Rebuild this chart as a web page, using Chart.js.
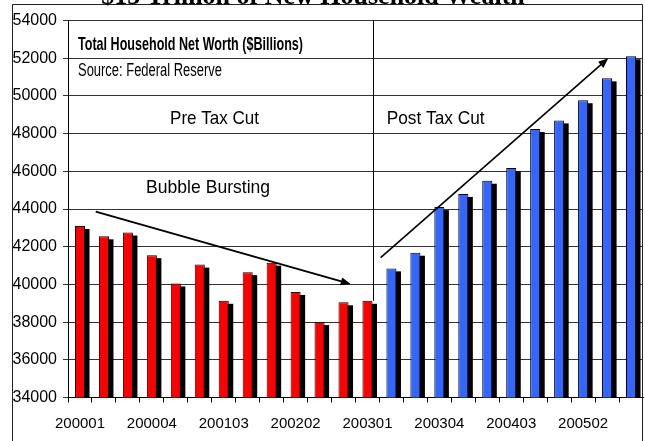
<!DOCTYPE html>
<html>
<head>
<meta charset="utf-8">
<script src="https://cdn.jsdelivr.net/npm/chart.js@4"></script>
<style>
  html,body{margin:0;padding:0;background:#fff;}
  canvas{display:block;}
</style>
</head>
<body>
<canvas id="nw" width="645" height="441"></canvas>
<script>
// quarterly, 2000Q1 .. 2005Q4
const quarters = ['200001','200002','200003','200004','200101','200102','200103','200104',
  '200201','200202','200203','200204','200301','200302','200303','200304',
  '200401','200402','200403','200404','200501','200502','200503','200504'];
const preTaxCut  = [43100,42550,42750,41550,40050,41050,39130,40650,41150,39600,38000,39050,39130];
const postTaxCut = [40850,41680,44100,44800,45500,46170,48240,48700,49770,50930,52100];
const yMin = 34000, yMax = 54000, yStep = 2000;

// annotations, in chart units (category index, $bn)
const notes = [
  {text:'Total Household Net Worth ($Billions)', at:[-0.083,52460], font:'bold 19px "Liberation Sans", Arial', w:225},
  {text:'Source: Federal Reserve', at:[-0.083,51055], font:'18px "Liberation Sans", Arial', w:144},
  {text:'Pre Tax Cut', at:[3.76,48510], font:'19px "Liberation Sans", Arial', w:89},
  {text:'Bubble Bursting', at:[2.76,44865], font:'19px "Liberation Sans", Arial', w:124},
  {text:'Post Tax Cut', at:[12.80,48510], font:'19px "Liberation Sans", Arial', w:98}
];
const arrows = [
  {from:[0.656,43860], to:[11.30,40020], lw:2},
  {from:[12.55,41420], to:[22.05,51995], lw:1.6}
];

const n = quarters.length;
const preData = quarters.map((q,i)=> i < preTaxCut.length ? preTaxCut[i] : null);
const postData = quarters.map((q,i)=> i >= n - postTaxCut.length ? postTaxCut[i-(n-postTaxCut.length)] : null);

function drawArrow(ctx,x1,y1,x2,y2,lw){
  const a = Math.atan2(y2-y1,x2-x1), len = 10, half = 4;
  ctx.lineWidth = lw; ctx.strokeStyle = '#000'; ctx.fillStyle = '#000';
  ctx.beginPath(); ctx.moveTo(x1,y1);
  ctx.lineTo(x2-len*0.7*Math.cos(a), y2-len*0.7*Math.sin(a)); ctx.stroke();
  ctx.beginPath(); ctx.moveTo(x2,y2);
  ctx.lineTo(x2-len*Math.cos(a)+half*Math.sin(a), y2-len*Math.sin(a)-half*Math.cos(a));
  ctx.lineTo(x2-len*Math.cos(a)-half*Math.sin(a), y2-len*Math.sin(a)+half*Math.cos(a));
  ctx.closePath(); ctx.fill();
}

// black drop shadow behind every bar
const shadowPlugin = {
  id:'shadow',
  beforeDatasetsDraw(chart){
    const ctx = chart.ctx, ca = chart.chartArea;
    ctx.save();
    ctx.beginPath(); ctx.rect(ca.left, ca.top, ca.right-ca.left, ca.bottom-ca.top); ctx.clip();
    ctx.fillStyle = '#000';
    chart.data.datasets.forEach((ds,i)=>{
      chart.getDatasetMeta(i).data.forEach((bar,j)=>{
        if(ds.data[j]==null) return;
        ctx.fillRect(bar.x - bar.width/2 + 4.5, bar.y + 3, bar.width, bar.base - bar.y - 3);
      });
    });
    ctx.restore();
  }
};

const notesPlugin = {
  id:'notes',
  afterDatasetsDraw(chart){
    const ctx = chart.ctx, xs = chart.scales.x, ys = chart.scales.y, ca = chart.chartArea;
    ctx.save();
    // divider after last pre-tax-cut bar
    const last = chart.getDatasetMeta(0).data[preTaxCut.length-1];
    const dx = Math.round(last.x + last.width/2) + 0.5;
    ctx.strokeStyle = '#000'; ctx.lineWidth = 1;
    ctx.beginPath(); ctx.moveTo(dx, ca.top); ctx.lineTo(dx, last.y); ctx.stroke();
    arrows.forEach(a=> drawArrow(ctx,
      xs.getPixelForValue(a.from[0]), ys.getPixelForValue(a.from[1]),
      xs.getPixelForValue(a.to[0]), ys.getPixelForValue(a.to[1]), a.lw));
    ctx.fillStyle = '#000'; ctx.textAlign = 'left'; ctx.textBaseline = 'alphabetic';
    notes.forEach(t=>{
      ctx.font = t.font;
      ctx.fillText(t.text, xs.getPixelForValue(t.at[0]), ys.getPixelForValue(t.at[1]), t.w);
    });
    ctx.restore();
  },
  afterDraw(chart){
    const ctx = chart.ctx;
    ctx.save();
    ctx.strokeStyle = '#222'; ctx.lineWidth = 1;
    ctx.beginPath(); ctx.moveTo(12.5, 460); ctx.lineTo(12.5, 4.5); ctx.lineTo(642.5, 4.5); ctx.lineTo(642.5, 460); ctx.stroke();
    ctx.fillStyle = '#000'; ctx.textAlign = 'center'; ctx.textBaseline = 'alphabetic';
    ctx.font = 'bold 26px "Liberation Serif", "Times New Roman", serif';
    ctx.fillText('$13 Trillion of New Household Wealth', 313, 4);
    ctx.restore();
  }
};

new Chart(document.getElementById('nw'), {
  type:'bar',
  data:{
    labels: quarters,
    datasets:[
      {data: preData, backgroundColor:'#ff0000', borderColor:'#000', borderWidth:1,
       grouped:false, barPercentage:0.42, categoryPercentage:1},
      {data: postData, backgroundColor:'#3366ff', borderColor:'#000', borderWidth:1,
       grouped:false, barPercentage:0.42, categoryPercentage:1}
    ]
  },
  options:{
    responsive:false,
    animation:false,
    layout:{padding:{top:20.5, right:2, left:0, bottom:0}},
    plugins:{legend:{display:false}, tooltip:{enabled:false}},
    scales:{
      x:{
        afterFit: s=>{ s.height = 43.5; },
        grid:{drawOnChartArea:false, tickLength:5, color:'#000', offset:true},
        border:{color:'#000', width:1},
        ticks:{autoSkip:false, maxRotation:0, padding:12, color:'#000',
          font:{family:'"Liberation Sans", Arial', size:15},
          callback:(v,i)=> i%3===0 ? quarters[i] : ''}
      },
      y:{
        min:yMin, max:yMax,
        afterFit: s=>{ s.width = 68; },
        grid:{color:'#333', tickLength:5},
        border:{color:'#000', width:1},
        ticks:{stepSize:yStep, padding:6, color:'#000',
          font:{family:'"Liberation Sans", Arial', size:16},
          callback:v=> String(v)}
      }
    }
  },
  plugins:[shadowPlugin, notesPlugin]
});
</script>
</body>
</html>
